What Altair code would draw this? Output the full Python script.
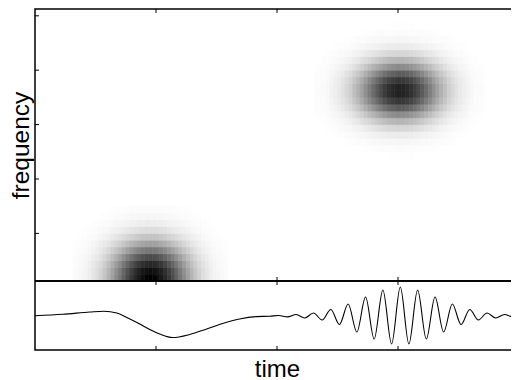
import altair as alt
import pandas as pd

# ---- axes / grid description ----
time_ticks = [1, 2, 3]
freq_ticks = [7, 15, 23, 31, 39]
n_time_bins = 128
n_freq_bins = 40
t_max = 4.0

# ---- heatmap: two separable blobs (profiles) ----
# upper blob (high frequency atom around time 3)
upper_peak = 0.88
upper_center_col = 96
upper_rows = list(range(18, 38))
upper_row_w = [0.005, 0.014, 0.035, 0.08, 0.165, 0.30, 0.48, 0.69, 0.875, 0.985,
               0.985, 0.875, 0.69, 0.48, 0.30, 0.165, 0.08, 0.035, 0.014, 0.005]
upper_col_off = list(range(-22, 23))
upper_col_w = [0.01, 0.015, 0.02, 0.03, 0.05, 0.07, 0.09, 0.12, 0.16, 0.20, 0.26,
               0.32, 0.39, 0.47, 0.55, 0.63, 0.71, 0.79, 0.86, 0.92, 0.96, 0.99,
               1.00,
               0.99, 0.96, 0.92, 0.86, 0.79, 0.71, 0.63, 0.55, 0.47, 0.39, 0.32,
               0.26, 0.20, 0.16, 0.12, 0.09, 0.07, 0.05, 0.03, 0.02, 0.015, 0.01]

# lower blob (low frequency atom around time 1)
lower_peak = 1.0
lower_center_col = 30
lower_rows = list(range(0, 11))
lower_row_w = [1.0, 0.96, 0.84, 0.68, 0.50, 0.34, 0.21, 0.12, 0.063, 0.03, 0.013]
lower_col_off = list(range(-20, 21))
lower_col_w = [0.013, 0.02, 0.03, 0.04, 0.06, 0.09, 0.12, 0.16, 0.21, 0.27, 0.34,
               0.42, 0.50, 0.59, 0.68, 0.76, 0.84, 0.91, 0.96, 0.99,
               1.00,
               0.99, 0.96, 0.91, 0.84, 0.76, 0.68, 0.59, 0.50, 0.42, 0.34,
               0.27, 0.21, 0.16, 0.12, 0.09, 0.06, 0.04, 0.03, 0.02, 0.013]

# ---- signal (extrema) ----
sig_time = [0.000, 0.231, 0.454, 0.569, 0.676, 0.784, 0.866, 0.948, 1.031, 1.138,
            1.278, 1.419, 1.551, 1.691, 1.831,
            1.942, 2.014, 2.086, 2.158, 2.229, 2.301, 2.373, 2.445, 2.516, 2.588,
            2.660, 2.732, 2.803, 2.875, 2.947, 3.019, 3.090, 3.162, 3.234, 3.306,
            3.377, 3.449, 3.521, 3.593, 3.664, 3.736, 3.808, 3.880, 3.951, 4.000]
sig_value = [0.3, 1.7, 4.0, 4.8, 3.0, -3.0, -8.0, -13.5, -18.0, -21.5,
             -18.5, -13.0, -7.5, -3.0, -0.6,
             -0.2, 0.5, -0.9, 1.5, -2.0, 3.0, -4.0, 6.5, -8.5, 12.0,
             -16.0, 19.0, -23.0, 26.0, -28.0, 29.0, -28.0, 26.0, -23.0, 19.0,
             -16.0, 12.0, -8.5, 6.5, -4.0, 3.0, -2.0, 1.5, -0.8, -0.3]
sig_domain = [-34, 35]

# ---- build tables ----
cells = []
for peak, c0, rows, row_w, offs, col_w in [
    (upper_peak, upper_center_col, upper_rows, upper_row_w, upper_col_off, upper_col_w),
    (lower_peak, lower_center_col, lower_rows, lower_row_w, lower_col_off, lower_col_w),
]:
    for r, rw in zip(rows, row_w):
        for d, cw in zip(offs, col_w):
            v = peak * rw * cw
            if v < 0.004:
                continue
            c = c0 + d
            cells.append({
                "t0": c * t_max / n_time_bins,
                "t1": (c + 1) * t_max / n_time_bins,
                "f0": r,
                "f1": r + 1,
                "v": v,
            })
cells_df = pd.DataFrame(cells)
signal_df = pd.DataFrame({"t": sig_time, "s": sig_value})
tx_df = pd.DataFrame({"t": time_ticks})
tf_df = pd.DataFrame({"f": freq_ticks})

# ---- layout (pixels) ----
W = 484          # plot width (its right edge runs to the page edge)
H_TOP = 272      # spectrogram panel height
H_BOT = 69       # signal panel height
H = H_TOP + H_BOT
TICK = 4

FONT = "Liberation Sans"
no_axis_parts = dict(labels=False, ticks=False, domain=False, grid=False, minExtent=0)

x_scale = alt.Scale(domain=[0, t_max], nice=False, zero=False)
f_scale = alt.Scale(domain=[0, n_freq_bins], range=[H_TOP, 0], nice=False, zero=False)
s_scale = alt.Scale(domain=sig_domain, range=[H, H_TOP], nice=False, zero=False)
gray = alt.Scale(domain=[0, 1], range=["#ffffff", "#000000"])

heat = alt.Chart(cells_df).mark_rect(strokeWidth=0.6).encode(
    x=alt.X("t0:Q", scale=x_scale,
            axis=alt.Axis(orient="bottom", title="time", titleFont=FONT, titleFontSize=24,
                          titleFontWeight="normal", titleColor="black", titlePadding=7,
                          **no_axis_parts)),
    x2="t1:Q",
    y=alt.Y("f0:Q", scale=f_scale,
            axis=alt.Axis(orient="left", title="frequency", titleFont=FONT, titleFontSize=24.5,
                          titleFontWeight="normal", titleColor="black", titlePadding=2,
                          **no_axis_parts)),
    y2="f1:Q",
    color=alt.Color("v:Q", scale=gray, legend=None),
    stroke=alt.Stroke("v:Q", scale=gray, legend=None),
)

divider = alt.Chart(tx_df).mark_rule(color="black", strokeWidth=1.5).encode(
    x=alt.X(datum=0, scale=x_scale, axis=None),
    x2=alt.X2(datum=t_max),
    y=alt.Y(datum=0, scale=f_scale, axis=None),
)

line = alt.Chart(signal_df).mark_line(color="black", strokeWidth=1.1, interpolate="monotone").encode(
    x=alt.X("t:Q", scale=x_scale, axis=None),
    y=alt.Y("s:Q", scale=s_scale, axis=None),
)

tick_style = dict(color="black", strokeWidth=1)
ticks_top = alt.Chart(tx_df).mark_rule(**tick_style).encode(
    x=alt.X("t:Q", scale=x_scale, axis=None),
    y=alt.Y(datum=n_freq_bins, scale=f_scale, axis=None),
    y2=alt.value(TICK),
)
ticks_mid_up = alt.Chart(tx_df).mark_rule(**tick_style).encode(
    x=alt.X("t:Q", scale=x_scale, axis=None),
    y=alt.Y(datum=0, scale=f_scale, axis=None),
    y2=alt.value(H_TOP - TICK),
)
ticks_mid_down = alt.Chart(tx_df).mark_rule(**tick_style).encode(
    x=alt.X("t:Q", scale=x_scale, axis=None),
    y=alt.Y(datum=sig_domain[1], scale=s_scale, axis=None),
    y2=alt.value(H_TOP + TICK),
)
ticks_bottom = alt.Chart(tx_df).mark_rule(**tick_style).encode(
    x=alt.X("t:Q", scale=x_scale, axis=None),
    y=alt.Y(datum=sig_domain[0], scale=s_scale, axis=None),
    y2=alt.value(H - TICK),
)
ticks_left = alt.Chart(tf_df).mark_rule(**tick_style).encode(
    y=alt.Y("f:Q", scale=f_scale, axis=None),
    x=alt.X(datum=0, scale=x_scale, axis=None),
    x2=alt.value(TICK),
)
ticks_right = alt.Chart(tf_df).mark_rule(**tick_style).encode(
    y=alt.Y("f:Q", scale=f_scale, axis=None),
    x=alt.X(datum=t_max, scale=x_scale, axis=None),
    x2=alt.value(W - TICK),
)

chart = alt.layer(
    heat, line, divider, ticks_top, ticks_mid_up, ticks_mid_down, ticks_bottom,
    ticks_left, ticks_right,
).resolve_scale(y="independent").resolve_axis(x="independent", y="independent").properties(
    width=W, height=H,
    autosize=alt.AutoSizeParams(type="none"),
    padding={"left": 27, "top": 1, "right": -8, "bottom": 32},
).configure_view(stroke="black", strokeWidth=1.5)

chart.save("out.html", embed_options={"renderer": "svg", "actions": False})
